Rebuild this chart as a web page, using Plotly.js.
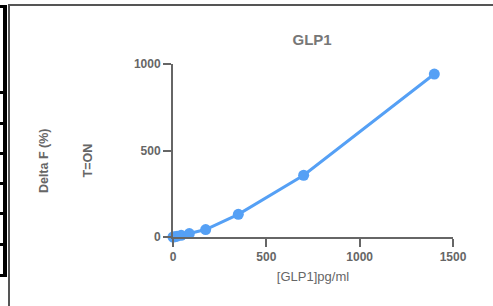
<!DOCTYPE html>
<html>
<head>
<meta charset="utf-8">
<script src="https://cdn.plot.ly/plotly-3.0.1.min.js"></script>
<style>
html,body{margin:0;padding:0;background:#fff;}
#wrap{position:relative;width:493px;height:306px;overflow:hidden;}
#chart{position:absolute;left:0;top:0;width:493px;height:306px;}
.d{position:absolute;}
</style>
</head>
<body>
<div id="wrap">
<div id="chart"></div>
<div class="d" style="left:8px;top:4px;width:1.5px;height:302px;background:#555;"></div>
<div class="d" style="left:8px;top:4px;width:485px;height:1.5px;background:#555;"></div>
<div class="d" style="left:3px;top:5px;width:3.5px;height:272px;background:#000;"></div>
<div class="d" style="left:0px;top:5px;width:4px;height:3px;background:#000;"></div>
<div class="d" style="left:0px;top:91px;width:4px;height:3px;background:#000;"></div>
<div class="d" style="left:0px;top:122px;width:4px;height:3px;background:#000;"></div>
<div class="d" style="left:0px;top:152px;width:4px;height:3px;background:#000;"></div>
<div class="d" style="left:0px;top:182px;width:4px;height:3px;background:#000;"></div>
<div class="d" style="left:0px;top:212px;width:4px;height:3px;background:#000;"></div>
<div class="d" style="left:0px;top:243px;width:4px;height:3px;background:#000;"></div>
<div class="d" style="left:0px;top:274px;width:6px;height:3px;background:#000;"></div>
</div>
<script>
const concentration = [0, 10.9, 21.9, 43.75, 87.5, 175, 350, 700, 1400];
const deltaF = [0, 2, 5, 10, 20, 43, 131, 357, 942];
const xTicks = [0, 500, 1000, 1500];
const yTicks = [0, 500, 1000];
const chartTitle = 'GLP1';
const xTitle = '[GLP1]pg/ml';
const yTitle1 = 'Delta F (%)';
const yTitle2 = 'T=ON';

const FONT = 'Arial, Liberation Sans, sans-serif';
const trace = {
  x: concentration, y: deltaF, type: 'scatter', mode: 'lines+markers',
  line: {color: '#55a0f5', width: 3},
  marker: {color: '#55a0f5', size: 11},
  cliponaxis: false, hoverinfo: 'none'
};
const axisCommon = {
  showgrid: false, zeroline: false, showline: true, linecolor: '#666', linewidth: 2,
  ticks: 'outside', ticklen: 8, tickwidth: 2, tickcolor: '#666',
  tickfont: {family: FONT, size: 12, color: '#666', weight: 'bold'}
};
const layout = {
  width: 493, height: 306,
  margin: {l: 173, r: 40, t: 64, b: 69},
  paper_bgcolor: 'rgba(0,0,0,0)', plot_bgcolor: 'rgba(0,0,0,0)',
  showlegend: false,
  title: {text: '<b>' + chartTitle + '</b>', x: 0.633, xanchor: 'center', y: 0.87, yanchor: 'middle',
    font: {family: FONT, size: 15, color: '#777'}},
  xaxis: Object.assign({}, axisCommon, {range: [0, 1500], tickvals: xTicks, ticktext: xTicks.map(String),
    title: {text: xTitle, standoff: 8, font: {family: FONT, size: 13, color: '#666'}}}),
  yaxis: Object.assign({}, axisCommon, {range: [0, 1000], tickvals: yTicks, ticktext: yTicks.map(String)}),
  annotations: [
    {text: '<b>' + yTitle1 + '</b>', textangle: -90, xref: 'paper', yref: 'paper', x: -0.46, y: 0.44,
     xanchor: 'center', yanchor: 'middle', showarrow: false,
     font: {family: FONT, size: 12.5, color: '#666'}},
    {text: '<b>' + yTitle2 + '</b>', textangle: -90, xref: 'paper', yref: 'paper', x: -0.305, y: 0.44,
     xanchor: 'center', yanchor: 'middle', showarrow: false,
     font: {family: FONT, size: 12.5, color: '#666'}}
  ]
};
Plotly.newPlot('chart', [trace], layout, {staticPlot: true, displayModeBar: false});
</script>
</body>
</html>
